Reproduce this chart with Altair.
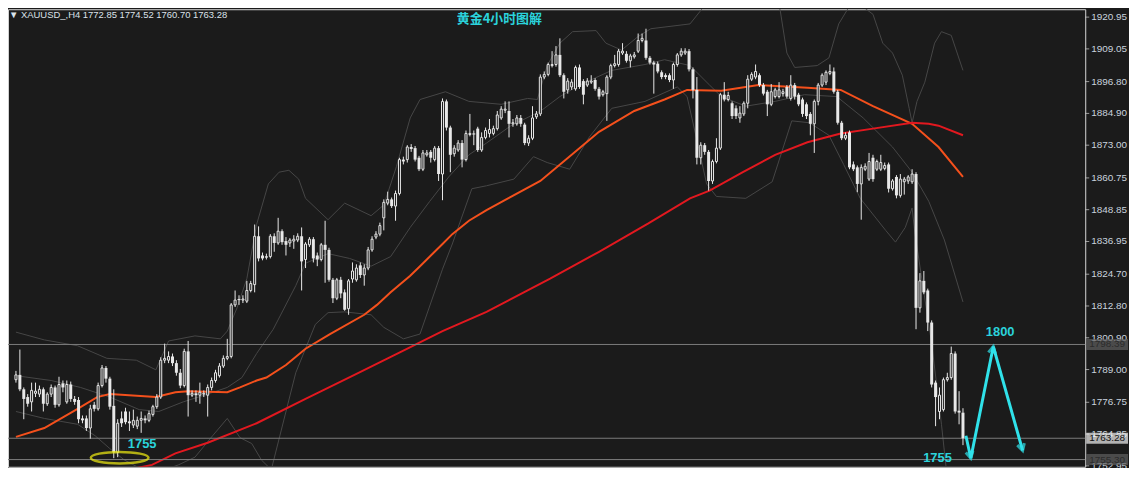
import altair as alt
import pandas as pd

# ---------------- data ----------------
OPEN = [
    1785.2, 1787.0, 1781.6, 1778.7, 1776.9, 1780.1, 1779.8, 1781.6, 1776.2, 1779.8,
    1782.3, 1775.8, 1783.8, 1776.9, 1783.4, 1778.0, 1777.6, 1770.7, 1770.7, 1767.1,
    1775.8, 1774.3, 1783.0, 1789.6, 1785.6, 1775.4, 1758.0, 1770.7, 1773.3, 1769.6,
    1768.2, 1767.8, 1770.0, 1770.7, 1770.0, 1772.2, 1775.1, 1778.7, 1792.5, 1792.5,
    1793.9, 1791.4, 1787.8, 1783.0, 1795.8, 1779.4, 1780.1, 1779.4, 1779.8, 1779.4,
    1782.3, 1784.9, 1786.7, 1790.3, 1793.2, 1793.9, 1813.2, 1815.4, 1815.0, 1814.6,
    1818.6, 1820.8, 1838.9, 1831.7, 1831.0, 1831.3, 1838.9, 1836.4, 1840.8, 1837.1,
    1836.4, 1837.1, 1837.5, 1838.9, 1830.2, 1835.7, 1837.8, 1831.7, 1830.2, 1835.7,
    1833.8, 1822.6, 1815.7, 1822.6, 1817.9, 1811.8, 1822.9, 1822.6, 1828.0, 1824.4,
    1827.0, 1833.8, 1838.6, 1839.7, 1845.8, 1851.3, 1852.7, 1850.2, 1854.9, 1867.6,
    1867.6, 1872.3, 1871.9, 1868.3, 1864.0, 1869.4, 1870.5, 1867.6, 1871.9, 1862.2,
    1889.4, 1879.6, 1869.8, 1871.2, 1873.8, 1867.6, 1877.0, 1877.4, 1879.2, 1871.2,
    1875.9, 1877.4, 1877.4, 1879.2, 1883.2, 1886.1, 1885.8, 1881.0, 1881.0, 1883.2,
    1880.7, 1873.8, 1875.6, 1883.6, 1884.7, 1898.5, 1899.5, 1902.8, 1903.2, 1906.8,
    1899.2, 1893.7, 1894.8, 1894.1, 1902.1, 1897.0, 1895.5, 1896.6, 1897.4, 1894.1,
    1891.9, 1892.3, 1898.5, 1902.8, 1903.2, 1907.5, 1907.2, 1904.6, 1906.1, 1908.2,
    1912.2, 1912.2, 1905.7, 1903.9, 1903.5, 1900.3, 1899.2, 1899.2, 1897.4, 1903.2,
    1906.8, 1907.5, 1908.2, 1901.4, 1893.7, 1868.3, 1873.0, 1870.5, 1859.6, 1866.9,
    1871.9, 1891.9, 1890.1, 1888.7, 1886.8, 1883.2, 1884.7, 1888.7, 1897.7, 1898.5,
    1899.2, 1895.5, 1893.0, 1888.3, 1891.2, 1891.2, 1892.3, 1894.8, 1890.5, 1895.5,
    1891.9, 1890.1, 1888.3, 1884.7, 1881.0, 1889.4, 1895.5, 1896.6, 1899.9, 1900.6,
    1893.0, 1881.4, 1875.6, 1877.8, 1865.8, 1864.7, 1858.5, 1864.0, 1860.3, 1868.3,
    1864.0, 1864.0, 1864.3, 1865.8, 1856.7, 1861.1, 1854.2, 1859.3, 1859.6, 1859.3,
    1862.2, 1812.1, 1822.2, 1818.6, 1806.6, 1784.1, 1773.3, 1774.0, 1785.2, 1786.0,
    1795.0, 1773.6, 1772.85,
]
HIGH = [
    1788.5, 1796.5, 1782.3, 1779.8, 1784.1, 1784.1, 1783.0, 1782.3, 1780.5, 1783.4,
    1783.0, 1786.3, 1784.9, 1784.9, 1784.5, 1779.1, 1778.7, 1771.8, 1771.8, 1775.8,
    1776.9, 1784.1, 1790.7, 1790.3, 1786.3, 1781.6, 1770.4, 1773.3, 1774.7, 1773.3,
    1774.0, 1771.4, 1773.3, 1771.8, 1773.6, 1775.8, 1779.8, 1793.6, 1798.7, 1795.8,
    1795.0, 1792.5, 1789.2, 1796.8, 1799.7, 1781.2, 1781.2, 1784.1, 1781.2, 1783.4,
    1786.0, 1788.9, 1791.4, 1794.3, 1800.5, 1813.9, 1818.6, 1816.8, 1816.8, 1822.2,
    1822.2, 1843.3, 1842.6, 1832.8, 1832.4, 1839.7, 1840.0, 1845.8, 1841.5, 1838.6,
    1838.2, 1839.3, 1840.0, 1842.2, 1836.7, 1838.6, 1838.6, 1832.8, 1836.4, 1844.7,
    1834.6, 1823.3, 1823.3, 1823.7, 1819.0, 1822.9, 1829.1, 1828.4, 1829.1, 1828.4,
    1834.9, 1838.9, 1840.8, 1844.0, 1852.7, 1855.6, 1853.4, 1856.0, 1868.3, 1868.7,
    1873.0, 1873.4, 1872.7, 1869.0, 1871.2, 1871.2, 1871.2, 1872.7, 1872.7, 1890.5,
    1890.1, 1880.3, 1873.0, 1874.9, 1874.9, 1878.5, 1884.7, 1878.5, 1879.9, 1877.8,
    1879.6, 1882.8, 1880.3, 1885.8, 1887.6, 1889.4, 1889.4, 1882.8, 1884.3, 1884.3,
    1881.4, 1876.7, 1887.6, 1885.8, 1899.5, 1900.6, 1903.9, 1908.2, 1910.1, 1913.0,
    1899.9, 1898.1, 1897.7, 1902.8, 1903.2, 1897.7, 1898.1, 1899.2, 1898.1, 1894.8,
    1893.7, 1899.2, 1903.5, 1906.8, 1909.0, 1911.2, 1908.2, 1907.2, 1907.9, 1914.8,
    1914.8, 1916.6, 1906.4, 1904.6, 1904.3, 1901.0, 1899.9, 1899.9, 1903.9, 1907.5,
    1909.3, 1909.3, 1909.0, 1902.1, 1898.5, 1874.1, 1873.8, 1871.2, 1867.6, 1875.6,
    1892.6, 1896.6, 1893.0, 1889.4, 1887.9, 1887.6, 1889.4, 1899.2, 1900.3, 1903.2,
    1899.9, 1896.3, 1893.7, 1895.9, 1894.5, 1896.6, 1894.1, 1895.5, 1899.2, 1896.3,
    1892.6, 1890.8, 1889.0, 1885.4, 1890.1, 1896.3, 1899.9, 1901.0, 1903.2, 1902.1,
    1893.7, 1882.1, 1877.8, 1878.5, 1866.9, 1865.4, 1865.8, 1866.2, 1870.1, 1869.4,
    1867.6, 1869.4, 1866.5, 1866.5, 1860.3, 1861.8, 1862.2, 1861.1, 1861.8, 1864.0,
    1862.9, 1825.1, 1825.9, 1819.3, 1807.4, 1784.9, 1782.3, 1786.0, 1787.8, 1797.6,
    1795.8, 1780.9, 1774.52,
]
LOW = [
    1784.1, 1780.9, 1770.4, 1775.1, 1773.3, 1778.7, 1778.7, 1773.3, 1775.4, 1778.7,
    1774.7, 1775.1, 1780.5, 1776.2, 1776.9, 1775.8, 1768.9, 1768.9, 1766.0, 1763.1,
    1773.3, 1773.6, 1782.3, 1784.1, 1774.0, 1755.8, 1756.2, 1767.5, 1768.5, 1766.0,
    1767.1, 1766.7, 1765.3, 1768.9, 1769.3, 1771.4, 1774.3, 1778.0, 1791.4, 1791.4,
    1790.3, 1786.7, 1782.0, 1782.3, 1771.4, 1778.7, 1776.9, 1776.2, 1778.7, 1771.4,
    1781.2, 1784.1, 1786.0, 1789.6, 1792.5, 1793.2, 1812.4, 1813.2, 1813.9, 1813.9,
    1817.9, 1817.9, 1829.5, 1829.9, 1830.2, 1830.6, 1833.1, 1835.7, 1835.7, 1831.7,
    1834.9, 1834.2, 1836.7, 1818.6, 1827.0, 1834.9, 1829.1, 1827.7, 1829.5, 1821.5,
    1821.9, 1813.9, 1815.0, 1815.7, 1811.0, 1809.5, 1821.5, 1821.9, 1823.3, 1820.4,
    1826.2, 1833.1, 1837.8, 1838.9, 1841.1, 1850.5, 1849.5, 1844.7, 1854.2, 1865.8,
    1866.5, 1870.5, 1866.9, 1863.3, 1863.3, 1868.7, 1866.5, 1866.9, 1859.6, 1852.4,
    1878.5, 1862.9, 1868.7, 1870.5, 1864.7, 1866.9, 1876.3, 1873.0, 1870.5, 1870.5,
    1875.2, 1875.9, 1876.7, 1878.5, 1882.5, 1885.0, 1875.9, 1879.9, 1880.3, 1879.9,
    1873.0, 1872.7, 1874.9, 1882.8, 1883.9, 1897.7, 1898.8, 1902.1, 1902.4, 1898.5,
    1890.5, 1892.3, 1893.7, 1893.4, 1894.1, 1888.3, 1894.8, 1895.9, 1893.4, 1890.1,
    1891.2, 1882.1, 1897.7, 1902.1, 1902.4, 1906.8, 1903.9, 1902.1, 1905.4, 1907.5,
    1911.5, 1905.0, 1903.2, 1892.3, 1899.9, 1897.7, 1897.7, 1896.6, 1894.1, 1902.4,
    1906.1, 1906.8, 1900.6, 1890.5, 1865.8, 1865.8, 1869.4, 1856.0, 1858.5, 1866.2,
    1871.2, 1889.4, 1889.4, 1882.8, 1882.8, 1881.4, 1883.9, 1886.8, 1897.0, 1897.7,
    1894.8, 1891.6, 1883.9, 1887.6, 1890.5, 1890.5, 1891.2, 1890.5, 1889.7, 1890.1,
    1887.6, 1883.6, 1882.8, 1876.7, 1870.1, 1887.9, 1894.8, 1895.5, 1899.2, 1892.3,
    1880.7, 1874.9, 1874.9, 1864.0, 1863.3, 1855.4, 1845.1, 1863.3, 1859.6, 1859.3,
    1863.3, 1863.3, 1863.6, 1855.3, 1856.0, 1853.1, 1853.4, 1854.5, 1858.5, 1858.5,
    1804.1, 1810.3, 1817.2, 1803.4, 1782.3, 1767.8, 1770.4, 1773.3, 1784.5, 1785.2,
    1772.5, 1768.5, 1760.70,
]
CLOSE = [
    1787.0, 1781.6, 1778.0, 1776.2, 1781.2, 1780.9, 1781.6, 1776.2, 1779.8, 1782.3,
    1775.8, 1783.4, 1782.3, 1783.4, 1778.0, 1776.9, 1770.4, 1770.0, 1767.1, 1774.3,
    1774.3, 1783.0, 1789.6, 1785.6, 1775.1, 1758.0, 1768.9, 1768.9, 1769.3, 1768.9,
    1770.0, 1770.0, 1770.7, 1770.0, 1772.5, 1775.1, 1778.7, 1792.5, 1793.2, 1793.9,
    1791.4, 1787.8, 1783.0, 1795.8, 1779.4, 1780.1, 1779.4, 1780.5, 1780.1, 1782.3,
    1784.9, 1787.8, 1790.3, 1793.2, 1793.9, 1813.2, 1815.0, 1815.0, 1815.4, 1818.6,
    1821.2, 1838.9, 1830.6, 1830.6, 1831.3, 1838.9, 1836.4, 1840.8, 1836.7, 1835.7,
    1837.5, 1837.8, 1838.9, 1829.5, 1836.0, 1837.8, 1830.6, 1830.2, 1835.7, 1833.8,
    1822.6, 1815.7, 1822.6, 1817.5, 1811.4, 1822.2, 1825.9, 1827.0, 1824.4, 1827.0,
    1833.8, 1837.8, 1839.7, 1842.9, 1851.6, 1852.7, 1850.2, 1854.9, 1867.6, 1866.9,
    1872.3, 1871.6, 1867.6, 1864.0, 1870.1, 1870.1, 1868.3, 1871.9, 1862.2, 1889.4,
    1879.6, 1869.4, 1871.9, 1873.8, 1867.6, 1877.4, 1877.4, 1877.0, 1871.2, 1875.9,
    1878.5, 1878.9, 1879.2, 1884.3, 1886.5, 1886.5, 1881.0, 1881.4, 1883.2, 1881.0,
    1873.8, 1875.6, 1883.2, 1884.7, 1898.5, 1899.5, 1903.2, 1903.2, 1906.8, 1899.2,
    1893.0, 1897.0, 1896.6, 1902.1, 1894.8, 1891.9, 1897.0, 1897.0, 1894.1, 1891.2,
    1893.0, 1898.5, 1902.8, 1903.5, 1908.2, 1908.2, 1904.6, 1906.4, 1906.8, 1912.2,
    1913.0, 1905.7, 1903.9, 1903.2, 1900.6, 1898.5, 1898.5, 1897.4, 1903.2, 1906.8,
    1908.2, 1908.2, 1901.4, 1893.7, 1868.3, 1873.0, 1870.5, 1859.6, 1866.9, 1871.9,
    1891.9, 1890.1, 1891.6, 1883.9, 1883.9, 1885.0, 1888.7, 1897.7, 1899.5, 1900.6,
    1895.5, 1892.3, 1888.3, 1893.0, 1893.7, 1893.7, 1893.0, 1891.2, 1895.5, 1891.2,
    1888.3, 1884.7, 1883.9, 1881.0, 1889.4, 1895.5, 1899.2, 1900.3, 1900.6, 1893.0,
    1881.4, 1875.6, 1876.7, 1864.7, 1864.0, 1858.5, 1864.7, 1865.1, 1866.9, 1860.3,
    1866.9, 1866.5, 1865.4, 1856.7, 1859.6, 1854.2, 1860.3, 1860.3, 1861.1, 1862.2,
    1812.1, 1822.2, 1817.9, 1806.6, 1783.4, 1778.7, 1779.4, 1785.2, 1786.0, 1795.0,
    1773.3, 1772.9, 1763.28,
]

# moving averages (bar index, price)
MA_FAST_IDX = [0, 7.25, 15.75, 20.75, 24, 35.75, 40.75, 44, 54, 57.25, 61.5, 64, 69, 74,
               80.25, 89, 92.25, 95.75, 100.75, 103.25, 109, 111.5, 115.75, 120.25, 125.75,
               134, 142, 149, 158, 165.75, 171.5, 180.25, 189.75, 202.25, 210.75, 219,
               229, 235.75, 242]
MA_FAST = [1763.8, 1767.1, 1774.3, 1778.7, 1779.8, 1778.7, 1780.5, 1780.9, 1780.5, 1782.3,
           1784.9, 1786.0, 1790.7, 1796.8, 1802.3, 1809.5, 1813.2, 1817.9, 1824.1, 1827.7,
           1836.0, 1839.7, 1844.7, 1848.7, 1853.1, 1859.6, 1869.4, 1878.0, 1885.8, 1890.1,
           1893.7, 1893.4, 1895.5, 1894.5, 1893.7, 1887.6, 1881.0, 1872.3, 1861.1]
MA_SLOW_IDX = [24, 31, 34.75, 40.75, 49, 61.5, 74, 86.5, 99, 109, 120.25, 136.5, 149, 161.5,
               172.25, 177.25, 185.75, 194, 202.25, 210.75, 219, 229, 233.25, 235.75, 242]
MA_SLOW = [1744.2, 1752.2, 1753.3, 1757.6, 1761.6, 1768.9, 1778.0, 1787.0, 1796.1, 1803.4,
           1810.6, 1823.0, 1833.1, 1843.6, 1853.1, 1856.0, 1862.9, 1869.4, 1874.1, 1877.4,
           1879.2, 1881.4, 1881.0, 1880.3, 1876.7]

# Bollinger bands (bar index, price)
BB_UP_IDX = [0, 7.25, 15.75, 23.25, 30.75, 35.75, 39, 45.75, 52.25, 54, 56.5, 59, 61.5, 64.5,
             67.25, 69.75, 72.25, 74, 79.75, 84, 90.75, 94, 97.25, 100.75, 103.25, 109.75,
             115.75, 124, 130.75, 133.25, 135.75, 139, 142.25, 148.25, 150.75, 154.75, 159,
             162.25, 172.25, 175.25, 179, 189, 195.25, 197, 199, 204.75, 207.75, 210.25,
             214, 219, 221.5, 224, 226.5, 228.25, 229, 230.25, 232.25, 234.75, 236.5, 239, 242]
BB_UP = [1803.0, 1800.1, 1797.9, 1793.2, 1792.5, 1788.9, 1799.7, 1801.6, 1800.5, 1803.4,
         1812.1, 1823.0, 1843.3, 1858.5, 1862.9, 1863.6, 1860.3, 1853.1, 1845.1, 1851.3,
         1846.6, 1850.6, 1865.1, 1883.2, 1890.1, 1893.0, 1889.4, 1888.3, 1890.5, 1890.1,
         1902.8, 1911.2, 1915.5, 1915.9, 1911.2, 1908.6, 1913.7, 1916.6, 1918.4, 1923.9,
         1929.3, 1931.1, 1923.9, 1907.5, 1902.1, 1902.8, 1905.7, 1918.4, 1927.5, 1922.0,
         1911.2, 1907.5, 1899.2, 1886.8, 1881.4, 1889.4, 1896.6, 1911.2, 1915.5, 1914.1, 1901.0]
BB_MID_IDX = [0, 9, 16.5, 24, 31.5, 36.5, 42.75, 49, 54, 57.75, 61.5, 65.75, 71.5, 74, 79.75,
              85.25, 90.75, 95.75, 100.75, 105.75, 110.75, 115.75, 120.25, 126.5, 134, 139,
              144, 152.25, 160.75, 165.75, 172.25, 177.25, 180.25, 186.5, 194, 201.5, 209.75,
              216.5, 224, 229, 233.25, 237.25, 242]
BB_MID = [1786.7, 1784.9, 1782.3, 1778.7, 1774.0, 1773.3, 1776.9, 1779.8, 1782.3, 1786.0,
          1795.0, 1804.1, 1820.4, 1828.8, 1832.4, 1830.6, 1827.7, 1831.3, 1842.2, 1852.0,
          1861.4, 1869.4, 1873.8, 1880.3, 1885.7, 1891.2, 1895.5, 1901.0, 1903.2, 1905.0,
          1902.8, 1895.5, 1891.2, 1887.6, 1889.4, 1891.9, 1891.2, 1883.2, 1872.3, 1862.9,
          1852.0, 1837.5, 1814.3]
BB_LOW_IDX = [0, 7.25, 15.75, 20.25, 24, 27.75, 31.5, 36.5, 41.5, 45.75, 50.25, 54, 57.25,
              60.25, 62.75, 65.25, 67.75, 71.5, 76.5, 79.75, 84, 90.75, 94, 99, 103.25, 109,
              111.5, 116.5, 120.25, 127.25, 132.25, 135.75, 141.5, 146.5, 152.25, 160.75, 169,
              171.5, 174, 176.5, 179, 186.5, 193.25, 198.25, 202.75, 207.75, 211.5, 215.75,
              222.25, 224.75, 227.25, 229, 229.75, 234, 236.5, 237.75, 242]
BB_LOW = [1773.3, 1770.7, 1768.5, 1764.2, 1759.4, 1755.1, 1752.2, 1750.7, 1753.3, 1756.2,
          1764.2, 1770.7, 1763.5, 1761.3, 1755.1, 1751.5, 1766.0, 1787.8, 1805.9, 1810.3,
          1810.6, 1809.5, 1804.8, 1800.5, 1802.3, 1826.6, 1836.0, 1856.7, 1857.8, 1860.3,
          1868.7, 1866.5, 1864.0, 1876.0, 1886.8, 1889.4, 1894.8, 1891.2, 1874.9, 1858.5,
          1853.8, 1853.1, 1859.3, 1882.1, 1881.4, 1876.7, 1865.8, 1853.1, 1841.1, 1836.7,
          1842.2, 1849.5, 1839.7, 1798.7, 1768.5, 1751.5, 1722.4]

TICK_VALUES = [1920.95, 1909.05, 1896.80, 1884.90, 1873.00, 1860.75, 1848.85, 1836.95,
               1824.70, 1812.80, 1800.90, 1789.00, 1776.75, 1764.85, 1752.95]
TICK_LABELS = ["1920.95", "1909.05", "1896.80", "1884.90", "1873.00", "1860.75", "1848.85",
               "1836.95", "1824.70", "1812.80", "1800.90", "1789.00", "1776.75", "1764.85",
               "1752.95"]

LEVELS = [1798.39, 1763.28, 1755.30]
LEVEL_LABELS = ["1798.39", "1763.28", "1755.30"]
LEVEL_KIND = ["grey", "white", "grey"]

ZIGZAG_IDX = [242.75, 244.0, 249.75, 257.25]
ZIGZAG = [1764.2, 1755.8, 1797.6, 1758.7]

NOTE_IDX = [32.25, 235.5, 251.5]
NOTE_PRICE = [1761.3, 1755.8, 1803.0]
NOTE_TEXT = ["1755", "1755", "1800"]

RING_IDX = [26.5]
RING_PRICE = [1756.0]

HEADER = "▼ XAUUSD_,H4  1772.85 1774.52 1760.70 1763.28"
TITLE = "黄金4小时图解"

# ---------------- styling ----------------
W, H = 1083, 460
BG = "#1b1b1b"
CANDLE = "#e8e8e8"

xs = alt.Scale(domain=[-0.76, 271.97], nice=False, zero=False)
ys = alt.Scale(domain=[1752.6, 1923.9], nice=False, zero=False)


def X(f):
    return alt.X(f, type="quantitative", scale=xs, axis=None)


def Y(f):
    return alt.Y(f, type="quantitative", scale=ys, axis=None)


bars = pd.DataFrame({"i": list(range(len(OPEN))), "o": OPEN, "h": HIGH, "l": LOW, "c": CLOSE})
bars["bull"] = bars["c"] >= bars["o"]
bull = bars[bars["bull"]]
bear = bars[~bars["bull"]]

bands = pd.concat([
    pd.DataFrame({"i": BB_UP_IDX, "p": BB_UP, "g": "up"}),
    pd.DataFrame({"i": BB_MID_IDX, "p": BB_MID, "g": "mid"}),
    pd.DataFrame({"i": BB_LOW_IDX, "p": BB_LOW, "g": "low"}),
])
fast = pd.DataFrame({"i": MA_FAST_IDX, "p": MA_FAST})
slow = pd.DataFrame({"i": MA_SLOW_IDX, "p": MA_SLOW})
ticks = pd.DataFrame({"p": TICK_VALUES, "t": TICK_LABELS})
levels = pd.DataFrame({"p": LEVELS, "t": LEVEL_LABELS, "k": LEVEL_KIND})
zig = pd.DataFrame({"i": ZIGZAG_IDX, "p": ZIGZAG, "o": list(range(len(ZIGZAG)))})
heads = pd.DataFrame({"i": ZIGZAG_IDX[1:], "p": ZIGZAG[1:], "a": [347.6, 191.5, 344.0]})
notes = pd.DataFrame({"i": NOTE_IDX, "p": NOTE_PRICE, "t": NOTE_TEXT})
ring = pd.DataFrame({"i": RING_IDX, "p": RING_PRICE})

band_layer = alt.Chart(bands).mark_line(color="#474747", strokeWidth=1, clip=True).encode(
    x=X("i"), y=Y("p"), detail="g:N", order="i:Q")
fast_layer = alt.Chart(fast).mark_line(color="#f4501c", strokeWidth=2, clip=True).encode(
    x=X("i"), y=Y("p"))
slow_layer = alt.Chart(slow).mark_line(color="#e2181f", strokeWidth=2, clip=True).encode(
    x=X("i"), y=Y("p"))
level_lines = alt.Chart(levels).mark_rule(color="#7d7d7d", strokeWidth=1).encode(y=Y("p"))

wicks = alt.Chart(bars).mark_rule(color=CANDLE, strokeWidth=1).encode(
    x=X("i"), y=Y("l"), y2="h")
bear_bodies = alt.Chart(bear).mark_bar(width=3, color=CANDLE).encode(
    x=X("i"), y=Y("o"), y2="c")
bull_bodies = alt.Chart(bull).mark_bar(width=2, fill=BG, stroke=CANDLE, strokeWidth=1).encode(
    x=X("i"), y=Y("o"), y2="c")

ring_layer = alt.Chart(ring).mark_point(
    shape="M -1 0 A 1 0.2 0 1 1 1 0 A 1 0.2 0 1 1 -1 0 Z", size=3364, filled=False,
    color="#f2ee12", strokeWidth=2.5).encode(x=X("i"), y=Y("p"))

note_layer = alt.Chart(notes).mark_text(font="Liberation Sans", fontSize=13, fontWeight="bold",
                                        color="#2bd3dc", align="center", baseline="middle").encode(
    x=X("i"), y=Y("p"), text="t:N")

zig_layer = alt.Chart(zig).mark_line(color="#30e2ea", strokeWidth=3, strokeJoin="miter").encode(
    x=X("i"), y=Y("p"), order="o:Q")
head_layer = alt.Chart(heads).mark_point(
    shape="M -0.55 -1 L 0 0 L 0.55 -1", size=180, filled=False, color="#30e2ea",
    strokeWidth=3).encode(x=X("i"), y=Y("p"), angle=alt.Angle("a:Q", scale=None))

# price scale on the right (drawn as marks so the level boxes can sit on top)
tick_marks = alt.Chart(ticks).mark_tick(orient="horizontal", thickness=1, size=4,
                                        color="#d0d0d0").encode(x=alt.value(W + 2), y=Y("p"))
tick_text = alt.Chart(ticks).mark_text(font="Liberation Sans", fontSize=10, color="#c9d3de",
                                       align="left", baseline="middle").encode(
    x=alt.value(W + 6), y=Y("p"), text="t:N")

box_layer = alt.Chart(levels).mark_tick(orient="horizontal", thickness=11, size=42).encode(
    x=alt.value(W + 22), y=Y("p"),
    color=alt.Color("k:N", scale=alt.Scale(domain=["grey", "white"],
                                             range=["#606060", "#f2f2f2"]), legend=None))
box_text = alt.Chart(levels).mark_text(font="Liberation Sans", fontSize=10, align="center",
                                       baseline="middle").encode(
    x=alt.value(W + 22), y=Y("p"), text="t:N",
    color=alt.Color("k:N", scale=alt.Scale(domain=["grey", "white"],
                                             range=["#2c2c2c", "#111111"]), legend=None))

header = alt.Chart(pd.DataFrame({"t": [HEADER]})).mark_text(
    font="Liberation Sans", fontSize=9.5, color="#dbe2ea", align="left", baseline="middle").encode(
    x=alt.value(1), y=alt.value(6), text="t:N")
title = alt.Chart(pd.DataFrame({"t": [TITLE]})).mark_text(
    font="Noto Sans CJK SC", fontSize=13, fontWeight="bold", color="#2bd3dc",
    align="center", baseline="middle").encode(
    x=alt.value(494), y=alt.value(10), text="t:N")

chart = alt.layer(
    band_layer, fast_layer, slow_layer, level_lines, wicks, bear_bodies, bull_bodies,
    ring_layer, note_layer, zig_layer, head_layer, tick_marks, tick_text, box_layer, box_text,
    header, title
).resolve_scale(color="independent").properties(
    width=W, height=H, background=BG,
    padding={"left": 0, "top": 0, "right": 44, "bottom": 0},
    autosize=alt.AutoSizeParams(type="none"),
).configure_view(stroke="#d6d6d6", strokeWidth=1)

chart.save("out.html", embed_options={"renderer": "svg", "actions": False})
